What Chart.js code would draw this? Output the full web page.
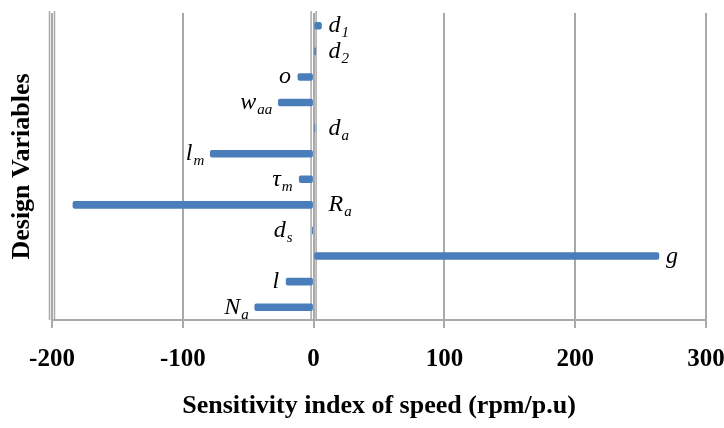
<!DOCTYPE html>
<html>
<head>
<meta charset="utf-8">
<script src="https://cdn.jsdelivr.net/npm/chart.js@4"></script>
<style>
  html, body { margin: 0; padding: 0; background: #ffffff; }
  #wrap { width: 724px; height: 428px; }
</style>
</head>
<body>
<div id="wrap"><canvas id="c" width="724" height="428"></canvas></div>
<script>
// Design variables (top to bottom), split into symbol and subscript
const categories = ['d1', 'd2', 'o', 'waa', 'da', 'lm', 'τm', 'Ra', 'ds', 'g', 'l', 'Na'];
const symbols    = ['d', 'd', 'o', 'w', 'd', 'l', 'τ', 'R', 'd', 'g', 'l', 'N'];
const subscripts = ['1', '2', '', 'aa', 'a', 'm', 'm', 'a', 's', '', '', 'a'];
// Sensitivity index of speed (rpm/p.u) for each variable
const sensitivity = [6, 1.5, -12, -27, 1, -79, -11, -184, -1, 264, -21, -45];
// Which side of the bar each label sits on
const labelSide = ['right', 'right', 'left', 'left', 'right', 'left', 'left', 'right', 'left', 'right', 'left', 'left'];
const xTicks = [-200, -100, 0, 100, 200, 300];

const SERIF = '"Liberation Serif", "Times New Roman", serif';
const GRID = '#a9a9a9';

// Symbol labels with subscripts beside each bar
const varLabels = {
  id: 'varLabels',
  afterDatasetsDraw(chart) {
    const { ctx, scales: { x, y } } = chart;
    const x0 = x.getPixelForValue(0);
    ctx.save();
    ctx.fillStyle = '#000';
    ctx.textBaseline = 'alphabetic';
    sensitivity.forEach((v, i) => {
      const xe = x.getPixelForValue(v);
      const yc = y.getPixelForValue(i);
      const base = yc + 6.5;
      ctx.font = 'italic 24px ' + SERIF;
      const wMain = ctx.measureText(symbols[i]).width;
      ctx.font = 'italic 15px ' + SERIF;
      const wSub = ctx.measureText(subscripts[i]).width;
      let left;
      if (labelSide[i] === 'right') {
        left = Math.max(xe, x0 + 8) + 7;
      } else {
        left = Math.min(xe, x0 - 15) - 6 - (wMain + wSub + 1);
      }
      ctx.font = 'italic 24px ' + SERIF;
      ctx.fillText(symbols[i], left, base);
      if (subscripts[i]) {
        ctx.font = 'italic 15px ' + SERIF;
        ctx.fillText(subscripts[i], left + wMain + 1, base + 5);
      }
    });
    ctx.restore();
  }
};

// Shaded double rules along the left edge and the zero line
const axisRules = {
  id: 'axisRules',
  beforeDatasetsDraw(chart) {
    const { ctx, chartArea: a, scales: { x } } = chart;
    ctx.save();
    ctx.strokeStyle = GRID;
    ctx.lineWidth = 1.5;
    [x.getPixelForValue(-200), x.getPixelForValue(0)].forEach(px => {
      [px - 2.5, px + 2.5].forEach(lx => {
        ctx.beginPath();
        ctx.moveTo(lx, a.top - 2);
        ctx.lineTo(lx, a.bottom);
        ctx.stroke();
      });
    });
    ctx.restore();
  }
};

new Chart(document.getElementById('c'), {
  type: 'bar',
  data: {
    labels: categories,
    datasets: [{
      data: sensitivity,
      backgroundColor: '#4a7ebb',
      borderWidth: 0,
      barThickness: 7,
      borderRadius: 2,
      borderSkipped: false
    }]
  },
  options: {
    indexAxis: 'y',
    responsive: false,
    animation: false,
    events: [],
    layout: { padding: { top: 13, right: 18, left: 0, bottom: 0 } },
    plugins: {
      legend: { display: false },
      tooltip: { enabled: false }
    },
    scales: {
      x: {
        type: 'linear',
        min: -200,
        max: 300,
        afterBuildTicks(scale) { scale.ticks = xTicks.map(v => ({ value: v })); },
        afterFit(scale) {
          scale.height = 108;
          scale.paddingLeft = 0;
          scale.paddingRight = 0;
        },
        grid: {
          color: GRID,
          lineWidth: 2,
          tickLength: 8,
          drawOnChartArea: true
        },
        border: { display: true, color: GRID, width: 2 },
        ticks: {
          color: '#000',
          padding: 17,
          font: { family: SERIF, size: 25, weight: 'bold' }
        },
        title: {
          display: true,
          text: 'Sensitivity index of speed (rpm/p.u)',
          color: '#000',
          font: { family: SERIF, size: 26, weight: 'bold' },
          padding: { top: 0, bottom: 6 }
        }
      },
      y: {
        type: 'category',
        afterFit(scale) { scale.width = 52; },
        grid: { display: false },
        border: { display: false },
        ticks: { display: false },
        title: {
          display: true,
          text: 'Design Variables',
          color: '#000',
          font: { family: SERIF, size: 26, weight: 'bold' },
          padding: { top: 7, bottom: 0 }
        }
      }
    }
  },
  plugins: [axisRules, varLabels]
});
</script>
</body>
</html>
